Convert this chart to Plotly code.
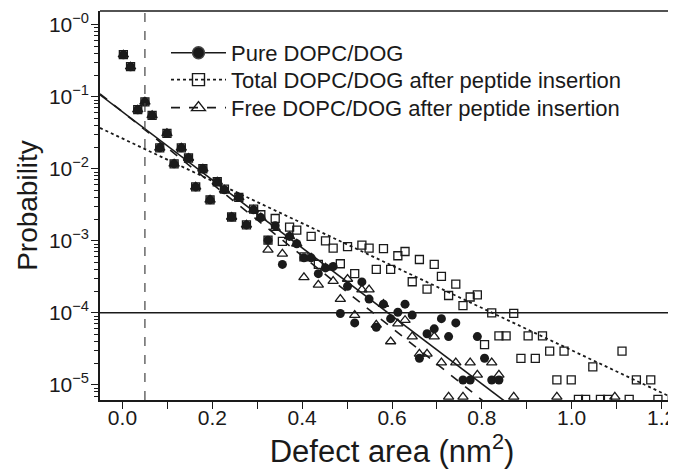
import plotly.graph_objects as go

# bin centres of defect area (nm^2)
area = [0.002, 0.018, 0.034, 0.050, 0.066, 0.083, 0.099, 0.115, 0.131, 0.147,
        0.163, 0.179, 0.195, 0.211, 0.227, 0.243, 0.259, 0.276, 0.292, 0.308,
        0.324, 0.340, 0.356, 0.372, 0.388, 0.404, 0.420, 0.436, 0.452, 0.469,
        0.485, 0.501, 0.517, 0.533, 0.549, 0.565, 0.581, 0.597, 0.613, 0.629,
        0.645, 0.661, 0.678, 0.694, 0.710, 0.726, 0.742, 0.758, 0.774, 0.790,
        0.806, 0.822, 0.838, 0.854, 0.871, 0.887, 0.903, 0.919, 0.935, 0.951,
        0.967, 0.983, 0.999, 1.015, 1.031, 1.047, 1.064, 1.080, 1.096, 1.112,
        1.128, 1.144, 1.160, 1.176, 1.192, 1.208, 1.224]

BOT = 6.3e-6   # points sitting on the lower axis

pure = [0.383, 0.261, 0.066, 0.085, 0.055, 0.0195, 0.031, 0.0117, 0.0195, 0.0141,
        0.0056, 0.0100, 0.0037, 0.0066, 0.0051, 0.00214, 0.0040, 0.00166, 0.0027, 0.0021,
        0.00102, 0.00162, 0.00047, 0.00115, 0.00091, 0.00058, 0.00058, 0.00035, 0.00042, 0.00044,
        0.000098, 0.000234, 0.0000724, 0.000269, 0.000155, 0.000063, 0.000132, 0.000083, 0.000102, 0.000132,
        0.000093, 0.0000234, 0.0000513, 0.000060, 0.000083, 0.0000468, 0.0000724, 0.0000117, 0.0000117, 0.0000468,
        0.0000234, 0.0000117, 0.0000117]

total = [0.383, 0.261, 0.066, 0.085, 0.055, 0.0195, 0.031, 0.0117, 0.0195, 0.0141,
         0.0056, 0.0100, 0.0037, 0.0066, 0.0052, 0.00214, 0.0040, 0.00166, 0.00275, 0.0023,
         0.00102, 0.00204, 0.00098, 0.00155, 0.00141, 0.0006, 0.00115, 0.00047, 0.001, 0.00079,
         0.00048, 0.00083, 0.00035, 0.00087, 0.00079, 0.0004, 0.00078, 0.0004, 0.00062, 0.00071,
         0.00027, 0.00055, 0.000214, 0.00047, 0.00032, 0.000174, 0.00025, 0.000126, 0.000166, 0.000178,
         0.0000363, 0.0001, 0.0000479, 0.0000479, 0.000098, 0.0000234, 0.0000479, 0.0000234, 0.0000479, 0.0000295,
         0.0000117, 0.0000295, 0.0000117, BOT, BOT, 0.0000178, BOT, BOT, None, 0.0000295,
         BOT, 0.0000117, None, 0.0000117, BOT, None, BOT]

free = [0.383, 0.261, 0.066, 0.085, 0.055, 0.0195, 0.031, 0.0117, 0.0195, 0.0141,
        0.0056, 0.0100, 0.0037, 0.0066, 0.0051, 0.00214, 0.0040, 0.00166, 0.0027, 0.0021,
        0.00075, 0.0015, 0.00066, 0.00115, 0.00091, 0.00031, 0.00058, 0.000245, 0.00042, 0.000275,
        0.000155, 0.000295, 0.000093, 0.00021, 0.00021, 0.000068, 0.000132, 0.00004, 0.000071, 0.000079,
        0.0000468, 0.0000269, 0.0000269, 0.0000468, 0.0000204, 6.8e-6, 0.0000204, 6.8e-6, 0.0000204, 0.0000138,
        None, 0.0000204, 0.0000138, None, 6.8e-6, None, None, None, None, None,
        6.8e-6, None, None, None, None, None, None, None, 6.8e-6]

# exponential fits: log10(P) = a + b * area
fit_x = [-0.05, 1.26]
fit_pure = (-1.21, -4.72)
fit_total = (-1.58, -2.94)
fit_free = (-1.21, -5.0)

INK = '#1a1a1a'
FONT = 'Liberation Sans, Arial, sans-serif'

fig = go.Figure()


def fit_line(ab, dash, width):
    a, b = ab
    return go.Scatter(x=fit_x, y=[10 ** (a + b * v) for v in fit_x], mode='lines',
                      line=dict(color=INK, dash=dash, width=width),
                      showlegend=False, hoverinfo='skip')


fig.add_trace(fit_line(fit_total, 'dot', 1.8))
fig.add_trace(fit_line(fit_free, 'dash', 1.6))
fig.add_trace(fit_line(fit_pure, 'solid', 1.6))

fig.add_trace(go.Scatter(x=area[:len(total)], y=total, mode='markers', showlegend=False,
                         marker=dict(symbol='square-open', size=8, color=INK, line=dict(width=1.3))))
fig.add_trace(go.Scatter(x=area[:len(free)], y=free, mode='markers', showlegend=False,
                         marker=dict(symbol='triangle-up-open', size=9, color=INK, line=dict(width=1.3))))
fig.add_trace(go.Scatter(x=area[:len(pure)], y=pure, mode='markers', showlegend=False,
                         marker=dict(symbol='circle', size=9, color=INK)))

# legend entries (line style + marker), one small legend per row
legend_items = [
    ('Pure DOPC/DOG', 'solid', 'circle', 'legend'),
    ('Total DOPC/DOG after peptide insertion', 'dot', 'square-open', 'legend2'),
    ('Free DOPC/DOG after peptide insertion', 'dash', 'triangle-up-open', 'legend3'),
]
for name, dash, sym, leg in legend_items:
    fig.add_trace(go.Scatter(x=[None], y=[None], mode='lines+markers', name=name,
                             legend=leg,
                             line=dict(color=INK, dash=dash, width=1.6),
                             marker=dict(symbol=sym, size=12, color=INK, line=dict(width=1.4))))

# reference lines
fig.add_vline(x=0.05, line=dict(color='#444', dash='dash', width=1.2))
fig.add_hline(y=1e-4, line=dict(color=INK, width=1.5))
# top frame line (right edge of the frame is cut off in the original)
fig.add_shape(type='line', xref='paper', yref='paper', x0=0, x1=1, y0=1, y1=1,
              line=dict(color=INK, width=1.5))

major = [1, 0.1, 0.01, 0.001, 1e-4, 1e-5]
major_text = ['10<sup>\u22120</sup>', '10<sup>\u22121</sup>', '10<sup>\u22122</sup>',
              '10<sup>\u22123</sup>', '10<sup>\u22124</sup>', '10<sup>\u22125</sup>']
minor_vals = [m * d for d in [1e-6, 1e-5, 1e-4, 1e-3, 1e-2, 1e-1] for m in range(2, 10)]

leg_style = dict(x=0.113, xanchor='left', yanchor='middle', font=dict(size=22),
                 bgcolor='rgba(0,0,0,0)', itemwidth=55)

fig.update_layout(
    width=676, height=470,
    margin=dict(l=92, r=0, t=3, b=78),
    paper_bgcolor='white', plot_bgcolor='white',
    font=dict(family=FONT, color=INK, size=21),
    legend=dict(y=0.892, **leg_style),
    legend2=dict(y=0.823, **leg_style),
    legend3=dict(y=0.751, **leg_style),
    showlegend=True,
)

fig.update_xaxes(
    range=[-0.05, 1.25], automargin=False, showgrid=False, zeroline=False,
    showline=True, linecolor=INK, linewidth=1.5,
    ticks='outside', ticklen=7, tickwidth=1.2, tickcolor=INK,
    tickvals=[0, 0.2, 0.4, 0.6, 0.8, 1.0, 1.2], tickformat='.1f',
    ticklabelstandoff=-9,
    minor=dict(ticks='outside', ticklen=7, tickwidth=1.2, tickcolor=INK,
               tickvals=[0.1, 0.3, 0.5, 0.7, 0.9, 1.1]),
    title=dict(text='Defect area (nm<sup>2</sup>)', font=dict(size=31), standoff=2),
)

fig.update_yaxes(
    type='log', range=[-5.21, 0.19], automargin=False, showgrid=False, zeroline=False,
    showline=True, linecolor=INK, linewidth=1.5,
    ticks='outside', ticklen=7, tickwidth=1.2, tickcolor=INK,
    tickvals=major, ticktext=major_text,
    ticklabelstandoff=-2,
    minor=dict(ticks='outside', ticklen=4, tickwidth=1, tickcolor=INK, tickvals=minor_vals),
    title=dict(text='Probability', font=dict(size=28), standoff=3),
)

fig.write_html('out.html')
